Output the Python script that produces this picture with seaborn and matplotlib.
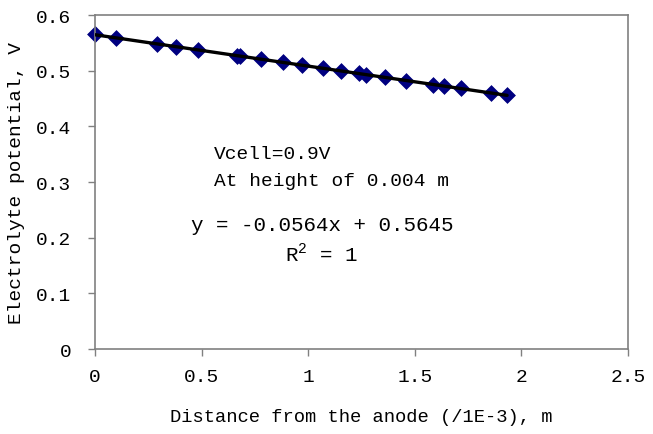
import matplotlib
matplotlib.use("Agg")
import matplotlib.pyplot as plt
import numpy as np
import pandas as pd
import seaborn as sns

# Values
distance = [0.0, 0.10, 0.29, 0.38, 0.485, 0.665, 0.68, 0.78, 0.88, 0.97, 1.07,
            1.155, 1.236, 1.271, 1.362, 1.46, 1.585, 1.638, 1.718, 1.859, 1.933]
potential = [0.565, 0.559, 0.548, 0.543, 0.537, 0.527, 0.526, 0.521, 0.515, 0.510, 0.504,
             0.499, 0.495, 0.493, 0.488, 0.482, 0.475, 0.472, 0.468, 0.460, 0.456]
x_ticks = [0, 0.5, 1, 1.5, 2, 2.5]
x_labels = ['0', '0.5', '1', '1.5', '2', '2.5']
y_ticks = [0, 0.1, 0.2, 0.3, 0.4, 0.5, 0.6]
y_labels = ['0', '0.1', '0.2', '0.3', '0.4', '0.5', '0.6']

data = pd.DataFrame({'Distance': distance, 'Potential': potential})

sns.set_style('ticks')
plt.rcParams['font.family'] = ['Liberation Mono', 'DejaVu Sans']
plt.rcParams['text.color'] = 'black'
plt.rcParams['axes.labelcolor'] = 'black'
plt.rcParams['xtick.labelcolor'] = 'black'
plt.rcParams['ytick.labelcolor'] = 'black'
plt.rcParams['mathtext.fontset'] = 'custom'
plt.rcParams['mathtext.rm'] = 'Liberation Mono'

fig = plt.figure(figsize=(6.53, 4.35), dpi=100)
ax = fig.add_axes([0.1455, 0.1954, 0.8162, 0.7678])

# Markers
sns.scatterplot(data=data, x='Distance', y='Potential', marker='D', s=65, color='#000080',
                edgecolor='#000080', linewidth=0.5, ax=ax, zorder=2, clip_on=False)
# Linear trend line over the data range
sns.regplot(data=data, x='Distance', y='Potential', scatter=False, ci=None, truncate=True,
            line_kws={'color': 'black', 'linewidth': 2.4, 'zorder': 3}, ax=ax)

ax.set_xlim(0, 2.5)
ax.set_ylim(0, 0.6)
ax.set_xticks(x_ticks)
ax.set_xticklabels(x_labels)
ax.set_yticks(y_ticks)
ax.set_yticklabels(y_labels)
ax.tick_params(axis='both', labelsize=14, direction='out', length=5, width=1, color='#808080')
ax.tick_params(axis='x', pad=9)
ax.tick_params(axis='y', pad=12)
for spine in ax.spines.values():
    spine.set_visible(True)
    spine.set_color('#808080')
    spine.set_linewidth(1.2)

ax.set_xlabel('Distance from the anode (/1E-3), m', fontsize=13.5, labelpad=16)
ax.set_ylabel('Electrolyte potential, V', fontsize=14, labelpad=8)

ax.text(0.56, 0.352, 'Vcell=0.9V', fontsize=14, ha='left', va='center')
ax.text(0.56, 0.302, 'At height of 0.004 m', fontsize=14, ha='left', va='center')
ax.text(1.065, 0.224, 'y = -0.0564x + 0.5645', fontsize=15, ha='center', va='center')
ax.text(1.065, 0.172, r'R$^\mathrm{2}$ = 1', fontsize=15, ha='center', va='center')

fig.savefig('out.png', dpi=100)
